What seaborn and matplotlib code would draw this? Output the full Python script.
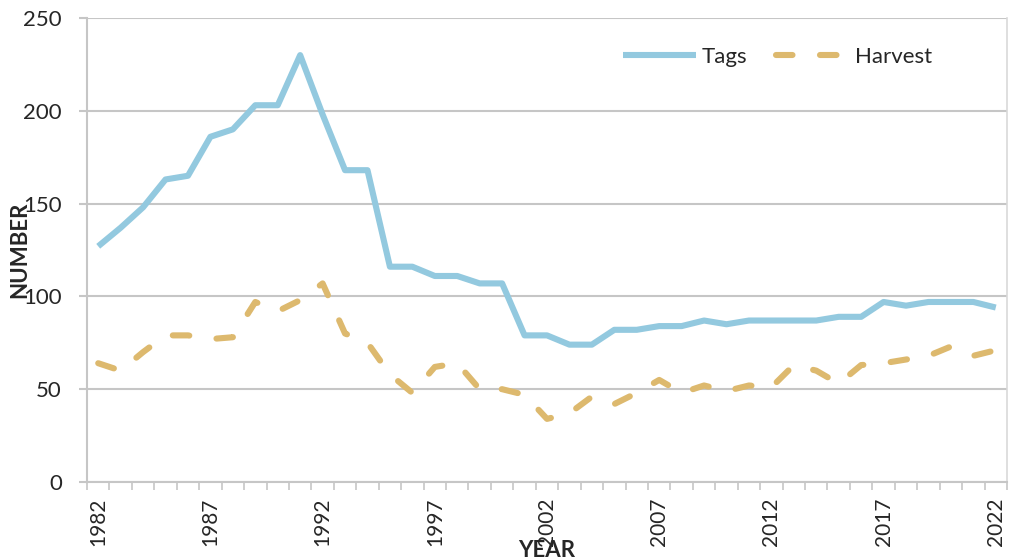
import numpy as np
import pandas as pd
import matplotlib
matplotlib.use('Agg')
import matplotlib.pyplot as plt
import seaborn as sns

# values
years = list(range(1982, 2023))
tags = [127, 137, 148, 163, 165, 186, 190, 203, 203, 230, 198, 168, 168, 116, 116,
        111, 111, 107, 107, 79, 79, 74, 74, 82, 82, 84, 84, 87, 85, 87, 87, 87, 87,
        89, 89, 97, 95, 97, 97, 97, 94]
harvest = [64, 60, 70, 79, 79, 77, 78, 97, 92, 98, 107, 80, 75, 58, 48, 62, 64, 50,
           50, 47, 34, 37, 46, 42, 48, 55, 48, 52, 49, 52, 51, 63, 60, 53, 63, 64, 66,
           68, 73, 68, 71]
year_labels = list(range(1982, 2023, 5))
y_ticks = [0, 50, 100, 150, 200, 250]

sns.set_style('white')
plt.rcParams['font.family'] = ['Lato', 'DejaVu Sans']

grey = '#C6C6C6'
blue = '#93C9DF'
tan = '#DDB96E'

df = pd.DataFrame({'year': years, 'Tags': tags, 'Harvest': harvest})

fig, ax = plt.subplots(figsize=(10.09, 5.6), dpi=100)
fig.subplots_adjust(left=87/1009, right=1007/1009, bottom=78/560, top=542/560)

sns.lineplot(data=df, x='year', y='Tags', ax=ax, color=blue, linewidth=4.4,
             label='Tags', solid_joinstyle='round', solid_capstyle='butt')
sns.lineplot(data=df, x='year', y='Harvest', ax=ax, color=tan, linewidth=4.4,
             label='Harvest', linestyle=(0, (2.7, 4.5)), dash_capstyle='round',
             dash_joinstyle='round')

ax.set_ylim(0, 250)
ax.set_yticks(y_ticks)
ax.set_xlim(1981.557, 2022.31)
ax.set_xticks(year_labels)
ax.set_xticks(np.arange(1981.5, 2022.6, 1), minor=True)
ax.set_xticklabels([str(y) for y in year_labels], rotation=90, va='top', ha='center')

ax.yaxis.grid(True, color=grey, linewidth=1.5)
ax.set_axisbelow(True)

for side in ['left', 'bottom']:
    ax.spines[side].set_color(grey)
    ax.spines[side].set_linewidth(1.5)
ax.spines['top'].set_visible(False)
ax.spines['right'].set_color('#D9D9D9')
ax.spines['right'].set_linewidth(1.2)

ax.tick_params(axis='y', which='major', direction='out', length=6, width=1.5,
               color=grey, labelsize=16, pad=12, left=True)
ax.tick_params(axis='x', which='major', length=0, labelsize=15, pad=11, bottom=True)
ax.tick_params(axis='x', which='minor', direction='out', length=6, width=1.2,
               color=grey, bottom=True)

ax.set_ylabel('NUMBER', fontsize=16, fontweight='bold', va='center')
ax.yaxis.set_label_coords(-0.073, 0.5)
ax.set_xlabel('YEAR', fontsize=16, fontweight='bold', va='top')
ax.xaxis.set_label_coords(0.5, -0.125)

ax.legend(loc='center', bbox_to_anchor=(0.7505, 0.916), ncol=2, frameon=False,
          handlelength=3.3, handletextpad=0.25, columnspacing=1.3, fontsize=16)

fig.savefig('out.png', dpi=100)
